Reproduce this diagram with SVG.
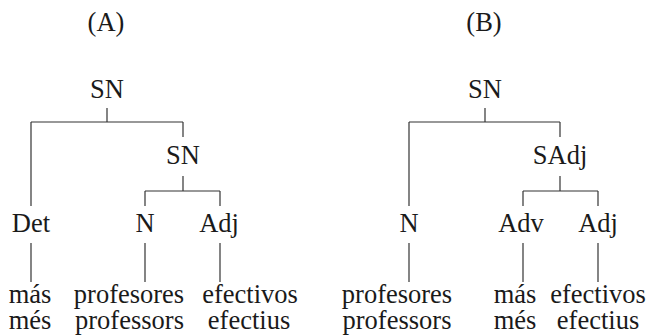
<svg xmlns="http://www.w3.org/2000/svg" width="662" height="336" viewBox="0 0 662 336">
<style>
text{font-family:"Liberation Serif","Times New Roman",serif;font-size:26.5px;fill:#1a1a1a;text-anchor:middle}
.c line{stroke:#333;stroke-width:1.2}
</style>
<rect width="662" height="336" fill="#fff"/>
<g id="titleA"><text x="106" y="31">(A)</text></g>
<g id="titleB"><text x="484" y="31">(B)</text></g>
<g class="c" id="connectors">
<line x1="107" y1="108" x2="107" y2="122"/>
<line x1="31" y1="122" x2="183" y2="122"/>
<line x1="31" y1="122" x2="31" y2="206"/>
<line x1="183" y1="122" x2="183" y2="137"/>
<line x1="183" y1="176" x2="183" y2="191"/>
<line x1="145" y1="191" x2="220" y2="191"/>
<line x1="145" y1="191" x2="145" y2="206"/>
<line x1="220" y1="191" x2="220" y2="206"/>
<line x1="31" y1="243" x2="31" y2="282"/>
<line x1="145" y1="243" x2="145" y2="282"/>
<line x1="220" y1="243" x2="220" y2="282"/>
<line x1="485" y1="108" x2="485" y2="122"/>
<line x1="409" y1="122" x2="560" y2="122"/>
<line x1="409" y1="122" x2="409" y2="206"/>
<line x1="560" y1="122" x2="560" y2="137"/>
<line x1="560" y1="176" x2="560" y2="191"/>
<line x1="523" y1="191" x2="598" y2="191"/>
<line x1="523" y1="191" x2="523" y2="206"/>
<line x1="598" y1="191" x2="598" y2="206"/>
<line x1="409" y1="243" x2="409" y2="282"/>
<line x1="523" y1="243" x2="523" y2="282"/>
<line x1="598" y1="243" x2="598" y2="282"/>
</g>
<g id="A_SN1"><text x="107" y="98">SN</text></g>
<g id="A_SN2"><text x="183" y="164">SN</text></g>
<g id="A_Det"><text x="31" y="232">Det</text></g>
<g id="A_N"><text x="145" y="232">N</text></g>
<g id="A_Adj"><text x="219" y="232">Adj</text></g>
<g id="A_mas"><text x="30" y="303">más</text><text x="30" y="329">més</text></g>
<g id="A_prof"><text x="129" y="303">profesores</text><text x="129.5" y="329">professors</text></g>
<g id="A_efec"><text x="250" y="303">efectivos</text><text x="249" y="329">efectius</text></g>
<g id="B_SN"><text x="485" y="98">SN</text></g>
<g id="B_SAdj"><text x="560" y="164">SAdj</text></g>
<g id="B_N"><text x="409" y="232">N</text></g>
<g id="B_Adv"><text x="521" y="232">Adv</text></g>
<g id="B_Adj"><text x="598" y="232">Adj</text></g>
<g id="B_prof"><text x="397" y="303">profesores</text><text x="397" y="329">professors</text></g>
<g id="B_mas"><text x="515" y="303">más</text><text x="515" y="329">més</text></g>
<g id="B_efec"><text x="598" y="303">efectivos</text><text x="598" y="329">efectius</text></g>
</svg>
